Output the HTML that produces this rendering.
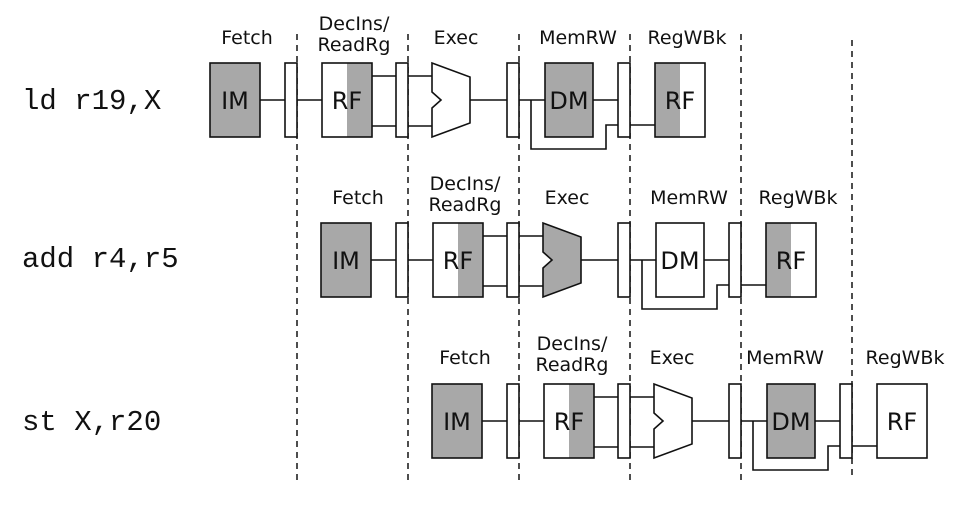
<!DOCTYPE html>
<html><head><meta charset="utf-8"><style>
html,body{margin:0;padding:0;background:#fff;}
svg{display:block;}
.l{font-family:"DejaVu Sans","Liberation Sans",sans-serif;font-size:19px;fill:#111;}
.b{font-family:"DejaVu Sans","Liberation Sans",sans-serif;font-size:24px;fill:#111;}
.m{font-family:"Liberation Mono",monospace;font-size:29px;fill:#111;}
</style></head><body>
<svg width="967" height="521" viewBox="0 0 967 521" xmlns="http://www.w3.org/2000/svg">
<defs>
<g id="row" stroke="#111" stroke-width="1.6" fill="none">
  <line x1="260" y1="100" x2="285" y2="100"/>
  <rect x="285" y="63" width="12" height="74" fill="#fff"/>
  <line x1="297" y1="100" x2="322" y2="100"/>
  <line x1="372" y1="76" x2="396" y2="76"/><line x1="372" y1="126" x2="396" y2="126"/>
  <rect x="396" y="63" width="12" height="74" fill="#fff"/>
  <line x1="408" y1="76" x2="432" y2="76"/><line x1="408" y1="126" x2="432" y2="126"/>
  <line x1="470" y1="100" x2="507" y2="100"/>
  <rect x="507" y="63" width="12" height="74" fill="#fff"/>
  <line x1="519" y1="100" x2="545" y2="100"/>
  <polyline points="531,100 531,149 606,149 606,125 618,125"/>
  <line x1="593" y1="100" x2="618" y2="100"/>
  <rect x="618" y="63" width="12" height="74" fill="#fff"/>
  <line x1="630" y1="125" x2="655" y2="125"/>
</g>
</defs>
<g stroke="#222" stroke-width="1.6" stroke-dasharray="6,5">
  <line x1="297" y1="34" x2="297" y2="480"/><line x1="408" y1="34" x2="408" y2="480"/>
  <line x1="519" y1="34" x2="519" y2="480"/><line x1="630" y1="34" x2="630" y2="480"/>
  <line x1="741" y1="34" x2="741" y2="480"/><line x1="852" y1="40" x2="852" y2="480"/>
</g>

<!-- row 1 -->
<g>
<use href="#row"/>
<g stroke="#111" stroke-width="1.6">
<rect x="210" y="63" width="50" height="74" fill="#a8a8a8"/>
<rect x="347" y="63" width="25" height="74" fill="#a8a8a8" stroke="none"/>
<rect x="322" y="63" width="50" height="74" fill="none"/>
<polygon points="432,63 470,77 470,123 432,137 432,108 441,100 432,92" fill="#fff"/>
<rect x="545" y="63" width="48" height="74" fill="#a8a8a8"/>
<rect x="655" y="63" width="25" height="74" fill="#a8a8a8" stroke="none"/>
<rect x="655" y="63" width="50" height="74" fill="none"/>
</g>
<text class="b" x="235" y="109" text-anchor="middle">IM</text>
<text class="b" x="347" y="109" text-anchor="middle">RF</text>
<text class="b" x="569" y="109" text-anchor="middle">DM</text>
<text class="b" x="680" y="109" text-anchor="middle">RF</text>
<text class="l" x="247" y="44" text-anchor="middle">Fetch</text>
<text class="l" x="354" y="30" text-anchor="middle">DecIns/</text>
<text class="l" x="354" y="51" text-anchor="middle">ReadRg</text>
<text class="l" x="456" y="44" text-anchor="middle">Exec</text>
<text class="l" x="578" y="44" text-anchor="middle">MemRW</text>
<text class="l" x="687" y="44" text-anchor="middle">RegWBk</text>
<text class="m" x="22" y="109">ld r19,X</text>
</g>

<!-- row 2 -->
<g transform="translate(111,160)">
<use href="#row"/>
<g stroke="#111" stroke-width="1.6">
<rect x="210" y="63" width="50" height="74" fill="#a8a8a8"/>
<rect x="347" y="63" width="25" height="74" fill="#a8a8a8" stroke="none"/>
<rect x="322" y="63" width="50" height="74" fill="none"/>
<polygon points="432,63 470,77 470,123 432,137 432,108 441,100 432,92" fill="#a8a8a8"/>
<rect x="545" y="63" width="48" height="74" fill="#fff"/>
<rect x="655" y="63" width="25" height="74" fill="#a8a8a8" stroke="none"/>
<rect x="655" y="63" width="50" height="74" fill="none"/>
</g>
<text class="b" x="235" y="109" text-anchor="middle">IM</text>
<text class="b" x="347" y="109" text-anchor="middle">RF</text>
<text class="b" x="569" y="109" text-anchor="middle">DM</text>
<text class="b" x="680" y="109" text-anchor="middle">RF</text>
<text class="l" x="247" y="44" text-anchor="middle">Fetch</text>
<text class="l" x="354" y="30" text-anchor="middle">DecIns/</text>
<text class="l" x="354" y="51" text-anchor="middle">ReadRg</text>
<text class="l" x="456" y="44" text-anchor="middle">Exec</text>
<text class="l" x="578" y="44" text-anchor="middle">MemRW</text>
<text class="l" x="687" y="44" text-anchor="middle">RegWBk</text>
</g>
<text class="m" x="22" y="267">add r4,r5</text>

<!-- row 3 -->
<g transform="translate(222,321)">
<use href="#row"/>
<g stroke="#111" stroke-width="1.6">
<rect x="210" y="63" width="50" height="74" fill="#a8a8a8"/>
<rect x="347" y="63" width="25" height="74" fill="#a8a8a8" stroke="none"/>
<rect x="322" y="63" width="50" height="74" fill="none"/>
<polygon points="432,63 470,77 470,123 432,137 432,108 441,100 432,92" fill="#fff"/>
<rect x="545" y="63" width="48" height="74" fill="#a8a8a8"/>
<rect x="655" y="63" width="50" height="74" fill="#fff"/>
</g>
<text class="b" x="235" y="109" text-anchor="middle">IM</text>
<text class="b" x="347" y="109" text-anchor="middle">RF</text>
<text class="b" x="569" y="109" text-anchor="middle">DM</text>
<text class="b" x="680" y="109" text-anchor="middle">RF</text>
<text class="l" x="243" y="43" text-anchor="middle">Fetch</text>
<text class="l" x="350" y="29" text-anchor="middle">DecIns/</text>
<text class="l" x="350" y="50" text-anchor="middle">ReadRg</text>
<text class="l" x="450" y="43" text-anchor="middle">Exec</text>
<text class="l" x="563" y="43" text-anchor="middle">MemRW</text>
<text class="l" x="683" y="43" text-anchor="middle">RegWBk</text>
</g>
<text class="m" x="22" y="430">st X,r20</text>
</svg>
</body></html>
